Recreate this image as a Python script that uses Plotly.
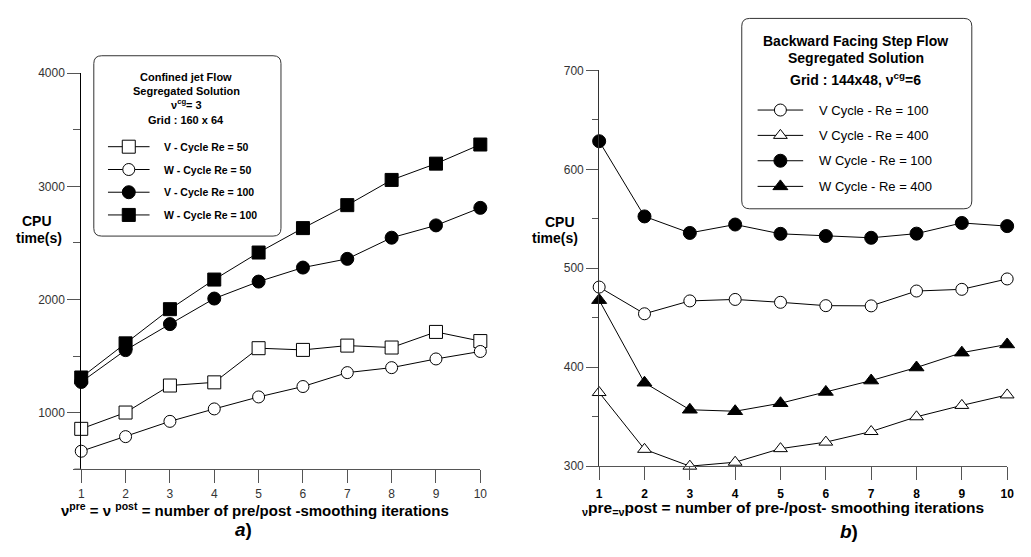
import plotly.graph_objects as go

W, H = 1031, 557

# ---------------- data ----------------
iters = [1, 2, 3, 4, 5, 6, 7, 8, 9, 10]

# panel a) Confined jet flow, CPU time (s)
a_v_re50 = [856, 1000, 1239, 1267, 1569, 1554, 1592, 1575, 1713, 1632]
a_w_re50 = [658, 787, 922, 1032, 1138, 1230, 1353, 1397, 1474, 1540]
a_v_re100 = [1270, 1552, 1782, 2008, 2158, 2282, 2359, 2546, 2655, 2810]
a_w_re100 = [1310, 1612, 1914, 2176, 2415, 2631, 2834, 3057, 3201, 3370]
a_names = ["V - Cycle Re = 50", "W - Cycle Re = 50", "V - Cycle Re = 100", "W - Cycle Re = 100"]

# panel b) Backward facing step flow, CPU time (s)
b_v_re100 = [481, 454, 467, 468.5, 465.6, 462.2, 462, 477, 478.7, 489.2]
b_v_re400 = [374.4, 317, 300, 304, 317.7, 324.3, 335, 349.9, 361.4, 372]
b_w_re100 = [628.4, 552.4, 535.7, 544.2, 534.8, 532.6, 530.8, 535, 545.8, 542.6]
b_w_re400 = [467.8, 384.3, 357, 355.5, 363.6, 375, 386.5, 399.7, 414.7, 423]
b_names = ["V Cycle - Re = 100", "V Cycle - Re = 400", "W Cycle - Re = 100", "W Cycle - Re = 400"]

a_ticks = [1000, 2000, 3000, 4000]
b_ticks = [300, 400, 500, 600, 700]

FONT = "Arial, Liberation Sans, Helvetica, sans-serif"


def px(x):
    return x / W


def py(y):
    return 1 - y / H


def style(kind):
    sym, filled, size = kind
    return dict(symbol=sym, size=size,
                color="black" if filled else "white",
                line=dict(color="black", width=1))


a_styles = [("square", False, 13), ("circle", False, 12), ("circle", True, 13), ("square", True, 13)]
b_styles = [("circle", False, 12), ("triangle-up", False, 12), ("circle", True, 13), ("triangle-up", True, 13)]

fig = go.Figure()

for name, vals, st in zip(a_names, [a_v_re50, a_w_re50, a_v_re100, a_w_re100], a_styles):
    fig.add_trace(go.Scatter(x=iters, y=vals, mode="lines+markers", name=name,
                             line=dict(color="black", width=1), marker=style(st),
                             xaxis="x", yaxis="y", showlegend=False, cliponaxis=False))

for name, vals, st in zip(b_names, [b_v_re100, b_v_re400, b_w_re100, b_w_re400], b_styles):
    fig.add_trace(go.Scatter(x=iters, y=vals, mode="lines+markers", name=name,
                             line=dict(color="black", width=1), marker=style(st),
                             xaxis="x2", yaxis="y2", showlegend=False, cliponaxis=False))

# ---------------- legend samples (pixel overlay axis) ----------------
a_leg_rows = [143.3, 166.7, 190, 213.3]
b_leg_rows = [105.7, 131.7, 157.7, 184]
for st, yy in zip(a_styles, a_leg_rows):
    fig.add_trace(go.Scatter(x=[106, 148], y=[yy, yy], mode="lines", line=dict(color="black", width=1),
                             xaxis="x3", yaxis="y3", showlegend=False, hoverinfo="skip"))
    fig.add_trace(go.Scatter(x=[127], y=[yy], mode="markers", marker=style(st),
                             xaxis="x3", yaxis="y3", showlegend=False, hoverinfo="skip"))
for st, yy in zip(b_styles, b_leg_rows):
    fig.add_trace(go.Scatter(x=[762, 808], y=[yy, yy], mode="lines", line=dict(color="black", width=1),
                             xaxis="x3", yaxis="y3", showlegend=False, hoverinfo="skip"))
    fig.add_trace(go.Scatter(x=[785], y=[yy], mode="markers", marker=style(st),
                             xaxis="x3", yaxis="y3", showlegend=False, hoverinfo="skip"))

annotations = []


def ann(text, x, y, size, bold=False, xanchor="center", color="black", italic=False):
    t = text
    if italic:
        t = "<i>" + t + "</i>"
    if bold:
        t = "<b>" + t + "</b>"
    annotations.append(dict(text=t, x=px(x), y=py(y), xref="paper", yref="paper",
                            xanchor=xanchor, yanchor="middle", showarrow=False,
                            font=dict(family=FONT, size=size, color=color)))


# left legend text
ann("Confined jet Flow", 185, 72.3, 11, bold=True)
ann("Segregated Solution", 185, 85.7, 11, bold=True)
ann("ν<sup>cg</sup>= 3", 185, 99, 11, bold=True)
ann("Grid : 160 x 64", 185, 116, 11, bold=True)
for name, yy in zip(a_names, a_leg_rows):
    ann(name, 160.7, yy, 10.5, bold=True, xanchor="left")

# right legend text
ann("Backward Facing Step Flow", 861, 35, 14, bold=True)
ann("Segregated Solution", 861, 52.7, 14, bold=True)
ann("Grid : 144x48, ν<sup>cg</sup>=6", 861, 74, 14, bold=True)
for name, yy in zip(b_names, b_leg_rows):
    ann(name, 821.7, yy, 13, xanchor="left")

# y titles
ann("CPU", 34, 220, 14, bold=True)
ann("time(s)", 36, 237, 14, bold=True)
ann("CPU", 562, 221, 14, bold=True)
ann("time(s)", 557, 237, 14, bold=True)

# x titles
ann("ν<sup>pre</sup> = ν <sup>post</sup> = number of pre/post -smoothing iterations", 57, 515, 15,
    bold=True, xanchor="left")
ann("<sub>ν</sub>pre<sub>=ν</sub>post = number of pre-/post- smoothing iterations", 583, 514, 15.5,
    bold=True, xanchor="left")

# panel captions
annotations.append(dict(text="<b><i>a</i>)</b>", x=px(232), y=py(549), xref="paper", yref="paper",
                        showarrow=False, font=dict(family=FONT, size=19, color="black")))
annotations.append(dict(text="<b><i>b</i>)</b>", x=px(865), y=py(551), xref="paper", yref="paper",
                        showarrow=False, font=dict(family=FONT, size=19, color="black")))


def rounded_rect(x0, y0, x1, y1, r):
    def P(x, y):
        return f"{px(x):.5f},{py(y):.5f}"
    path = (f"M {P(x0 + r, y0)} L {P(x1 - r, y0)} Q {P(x1, y0)} {P(x1, y0 + r)} "
            f"L {P(x1, y1 - r)} Q {P(x1, y1)} {P(x1 - r, y1)} "
            f"L {P(x0 + r, y1)} Q {P(x0, y1)} {P(x0, y1 - r)} "
            f"L {P(x0, y0 + r)} Q {P(x0, y0)} {P(x0 + r, y0)} Z")
    return dict(type="path", path=path, xref="paper", yref="paper",
                line=dict(color="#333333", width=1), fillcolor="white", layer="below")


shapes = [
    rounded_rect(91.7, 50, 280.7, 235, 8),
    rounded_rect(746, 11.7, 978.3, 207, 8),
    dict(type="line", xref="paper", yref="paper", x0=px(72), x1=px(79), y0=py(474), y1=py(474),
         line=dict(color="#555555", width=1)),
]

axis_common = dict(showgrid=False, zeroline=False, showline=True, ticks="outside", mirror=False)

fig.update_layout(
    width=W, height=H, margin=dict(l=0, r=0, t=0, b=0),
    paper_bgcolor="white", plot_bgcolor="rgba(0,0,0,0)",
    font=dict(family=FONT, color="#333333"),
    showlegend=False,
    xaxis=dict(domain=[px(79), px(482)], range=[1, 10], tickvals=iters, anchor="y",
               linecolor="#555555", tickcolor="#555555", ticklen=13, ticklabelstandoff=1,
               tickfont=dict(size=12, color="#333333"), **axis_common),
    yaxis=dict(domain=[py(474), py(68)], range=[500, 4000], tickvals=a_ticks, anchor="x",
               linecolor="black", tickcolor="#555555", ticklen=13,
               tickfont=dict(size=12, color="#333333"),
               minor=dict(dtick=500, tick0=0, ticklen=7, ticks="outside", tickcolor="#555555"),
               **axis_common),
    xaxis2=dict(domain=[px(602), px(1014)], range=[1, 10], tickvals=iters, anchor="y2",
                linecolor="#555555", tickcolor="#555555", ticklen=13, ticklabelstandoff=3,
                tickfont=dict(size=12, color="black", weight="bold"), **axis_common),
    yaxis2=dict(domain=[py(471), py(65)], range=[300, 700], tickvals=b_ticks, anchor="x2",
                linecolor="#333333", tickcolor="#555555", ticklen=12,
                tickfont=dict(size=12, color="#333333"),
                minor=dict(dtick=50, tick0=0, ticklen=6, ticks="outside", tickcolor="#555555"),
                **axis_common),
    xaxis3=dict(domain=[0, 1], range=[0, W], visible=False, anchor="y3", fixedrange=True),
    yaxis3=dict(domain=[0, 1], range=[H, 0], visible=False, anchor="x3", fixedrange=True),
    annotations=annotations,
    shapes=shapes,
)

fig.write_html("out.html", config={"displayModeBar": False},
               post_script="document.body.style.margin='0';document.body.style.overflow='hidden';")
